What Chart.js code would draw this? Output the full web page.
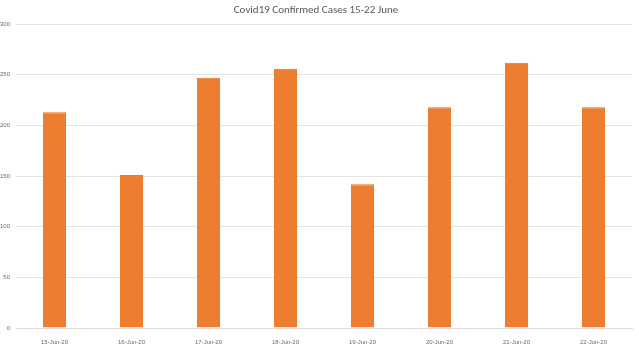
<!DOCTYPE html>
<html><head><meta charset="utf-8">
<script src="https://cdn.jsdelivr.net/npm/chart.js@4/dist/chart.umd.min.js"></script>
<style>html,body{margin:0;padding:0;background:#fff}#wrap{width:639px;height:344px}</style>
</head><body><div id="wrap"><canvas id="c" width="639" height="344"></canvas></div>
<script>
const categories = ["15-Jun-20","16-Jun-20","17-Jun-20","18-Jun-20","19-Jun-20","20-Jun-20","21-Jun-20","22-Jun-20"];
const confirmedCases = [213, 151, 247, 256, 142, 218, 262, 218];
const yTicks = [0, 50, 100, 150, 200, 250, 300];
const titleText = "Covid19 Confirmed Cases 15-22 June";

new Chart(document.getElementById('c'), {
  type: 'bar',
  data: { labels: categories, datasets: [{ data: confirmedCases, backgroundColor: '#ED7D31', borderColor: '#EB761F', borderWidth: 1, borderSkipped: 'bottom', barPercentage: 0.3, categoryPercentage: 1 }] },
  options: {
    responsive: false, animation: false,
    layout: { padding: { left: 0, right: 7, top: 1, bottom: 0 } },
    plugins: {
      legend: { display: false }, tooltip: { enabled: false },
      title: { display: true, text: titleText, color: '#595959', font: { family: 'Calibri, Carlito, "Open Sans", sans-serif', size: 11, weight: 'normal' }, padding: { top: 3, bottom: 7 } }
    },
    scales: {
      x: {
        grid: { display: false },
        border: { color: '#dcdcdc' },
        ticks: { color: '#6a6a6a', font: { size: 6 }, padding: 3, maxRotation: 0 },
        afterFit: s => { s.height = 16; }
      },
      y: {
        min: 0, max: 300,
        afterBuildTicks: s => { s.ticks = yTicks.map(v => ({ value: v })); },
        grid: { color: '#e3e3e3', drawTicks: false },
        border: { display: false },
        ticks: { color: '#6a6a6a', font: { size: 6 }, padding: 6 },
        afterFit: s => { s.width = 16; }
      }
    }
  }
});
</script></body></html>
